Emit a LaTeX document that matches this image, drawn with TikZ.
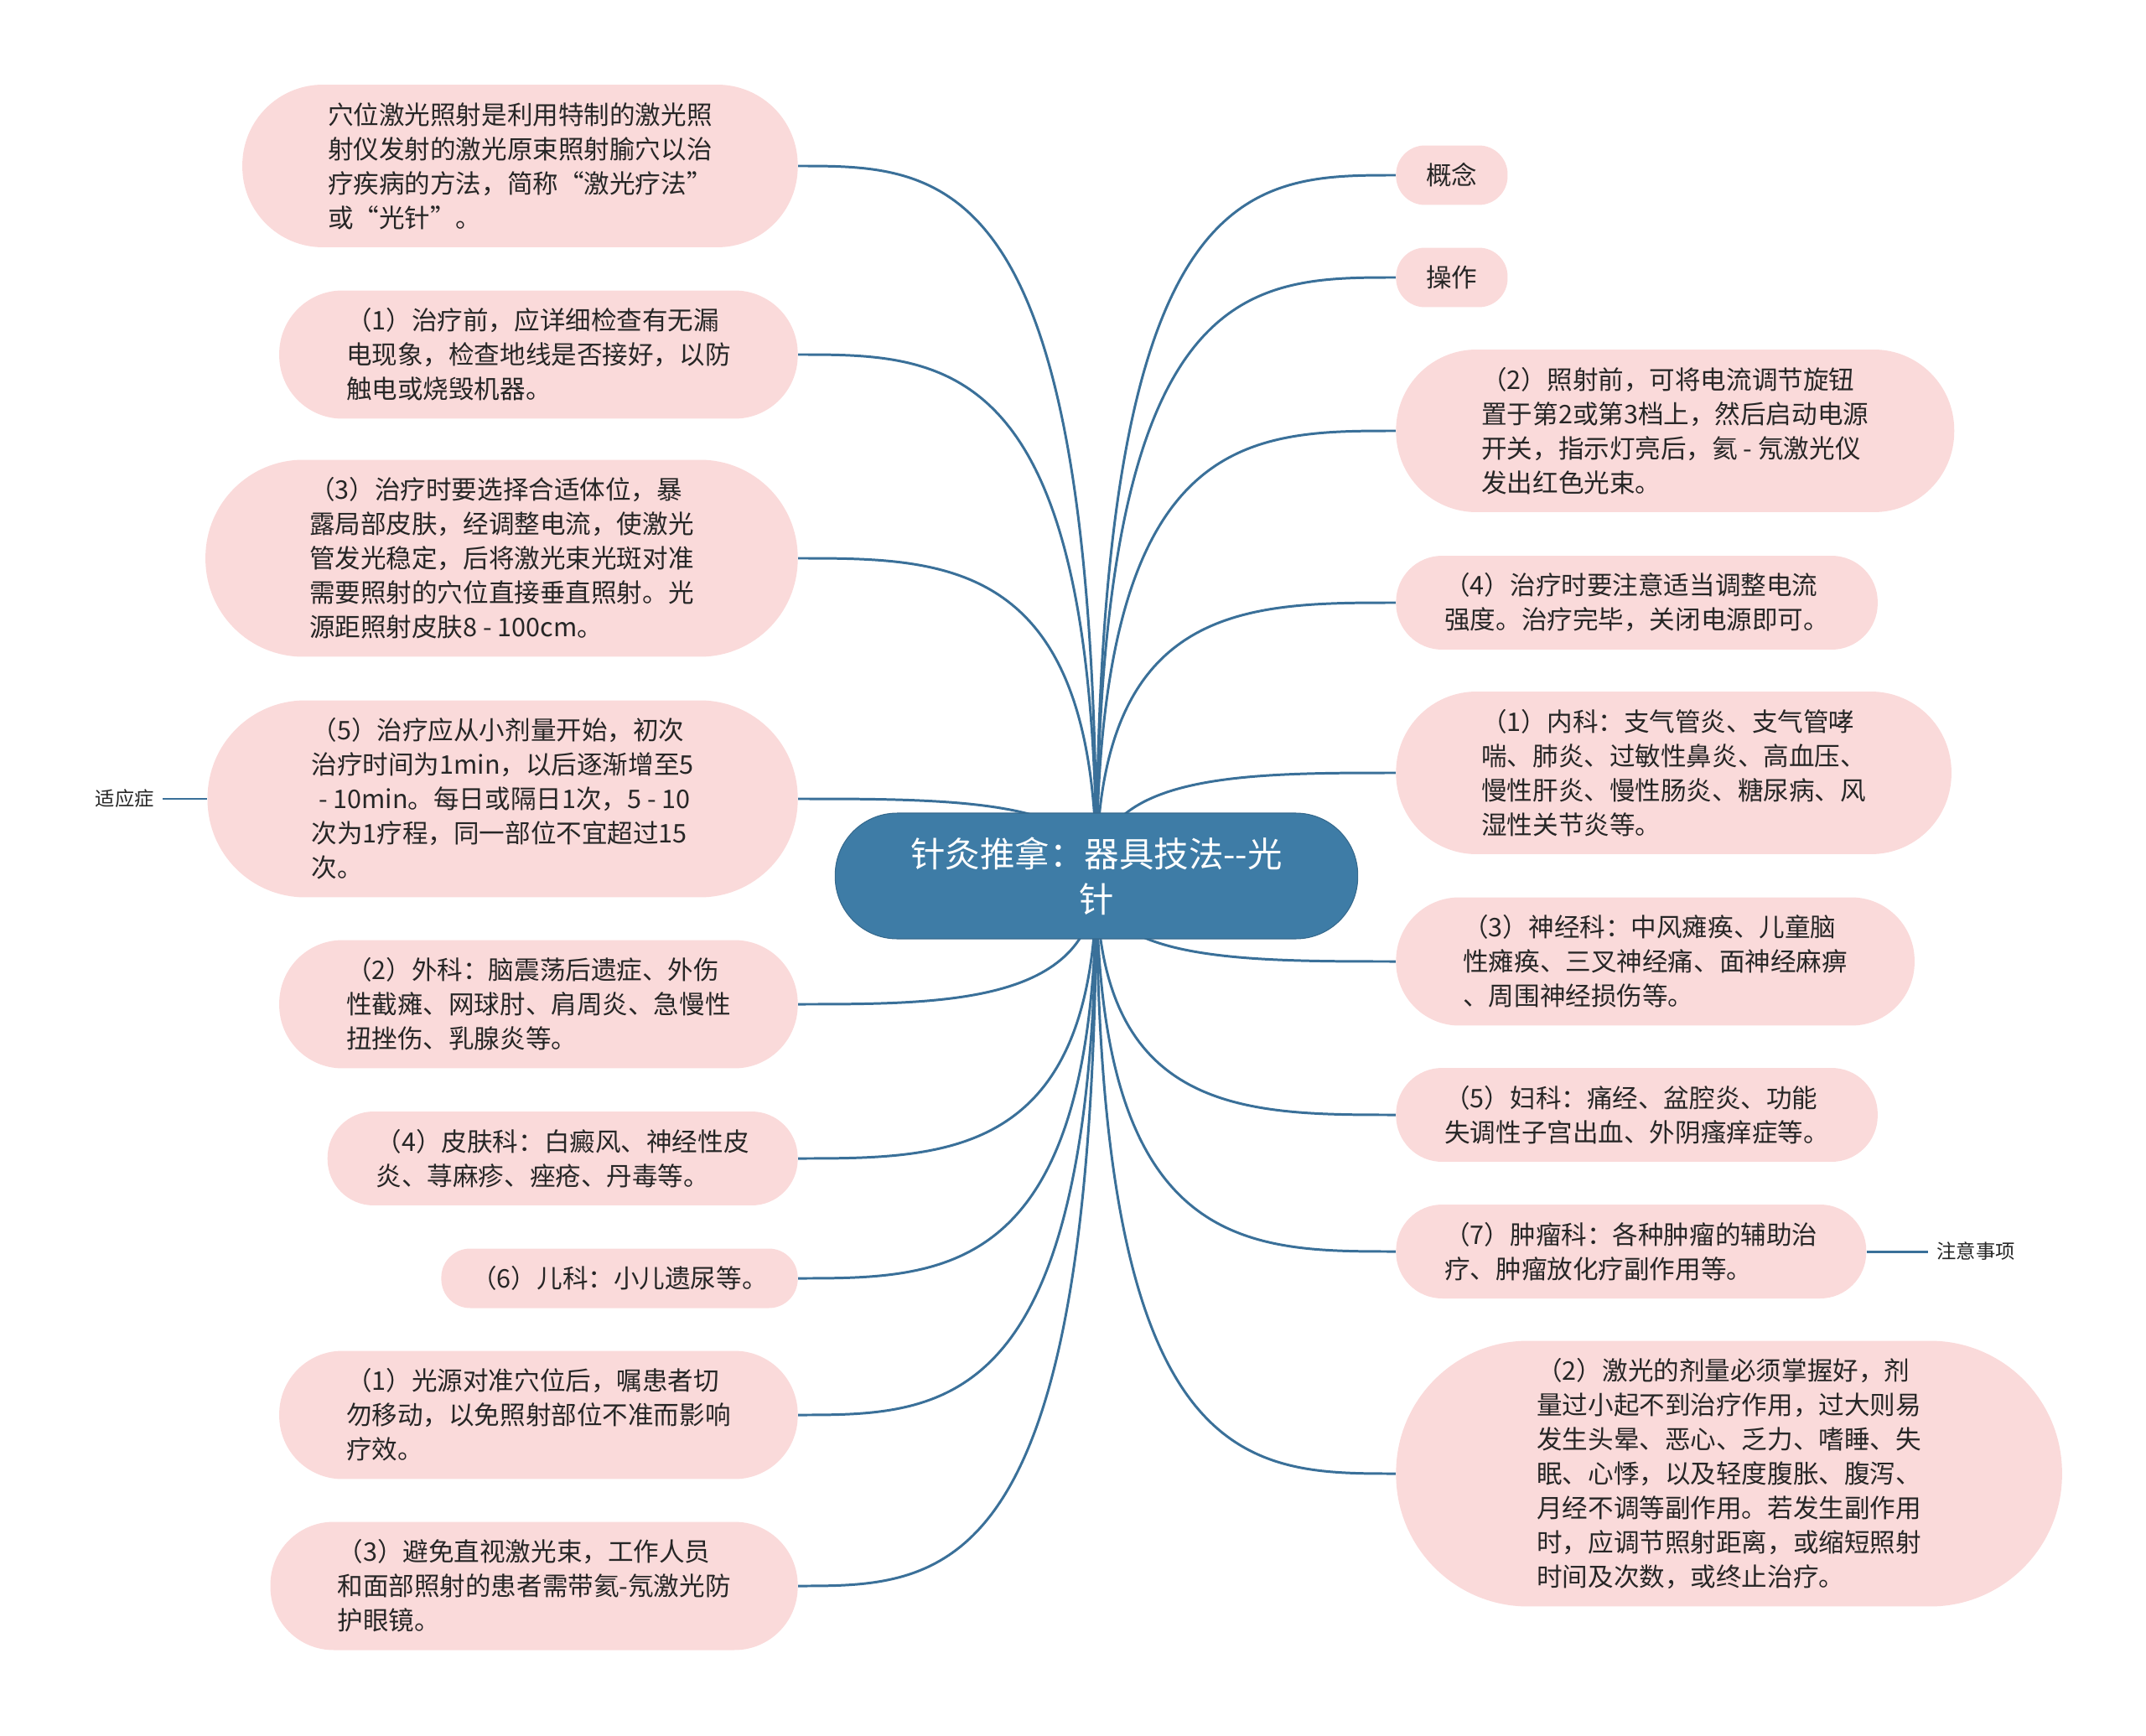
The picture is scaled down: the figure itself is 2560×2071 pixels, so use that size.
\documentclass[tikz,border=0pt]{standalone}
\usepackage{fontspec}
\setmainfont{Noto Sans CJK SC}
\usepackage{tikz}
\usetikzlibrary{calc}

\definecolor{topicblue}{HTML}{3E7CA6}
\definecolor{linkblue}{HTML}{3A7099}
\definecolor{leafpink}{HTML}{FADADA}
\definecolor{leaftext}{HTML}{262626}

\pgfdeclarelayer{background}
\pgfsetlayers{background,main}

\begin{document}
\begin{tikzpicture}[x=0.02cm, y=-0.02cm,
  topic/.style={rectangle, rounded corners=1.48cm, fill=topicblue, draw=topicblue!85!black,
    line width=0.6pt, text=white, align=center, inner xsep=1.8cm, inner ysep=0.55cm,
    minimum height=3cm, font=\fontsize{23.6}{30.7}\selectfont},
  % #1 = number of text lines, the ends are half circles
  leaf/.style={rectangle, fill=leafpink, text=leaftext, align=left,
    rounded corners={#1*0.41cm+0.28cm}, inner xsep={#1*0.44cm+0.28cm}, inner ysep=0.4cm,
    minimum height={#1*0.82cm+0.6cm}, font=\fontsize{17.4}{23.3}\selectfont},
  tag/.style={text=leaftext, inner xsep=0.2cm, inner ysep=0.1cm,
    font=\fontsize{13.3}{16}\selectfont},
  link/.style={draw=linkblue, line width=1.7pt}]

\useasboundingbox (0,0) rectangle (2560,2071);

% First, define nodes: the central topic
\node[topic] (C) at (1308,1045) {针灸推拿：器具技法\mbox{-}\mbox{-}光\\针};

% left branch, all hanging from x = 952
\node[leaf=4, anchor=east] (L1) at (952,198) {穴位激光照射是利用特制的激光照\\射仪发射的激光原束照射腧穴以治\\疗疾病的方法，简称“激光疗法”\\或“光针”。};
\node[leaf=3, anchor=east] (L2) at (952,423) {（1）治疗前，应详细检查有无漏\\电现象，检查地线是否接好，以防\\触电或烧毁机器。};
\node[leaf=5, anchor=east] (L3) at (952,666) {（3）治疗时要选择合适体位，暴\\露局部皮肤，经调整电流，使激光\\管发光稳定，后将激光束光斑对准\\需要照射的穴位直接垂直照射。光\\源距照射皮肤8 - 100cm。};
\node[leaf=5, anchor=east] (L4) at (952,953) {（5）治疗应从小剂量开始，初次\\治疗时间为1min，以后逐渐增至5\\\hspace*{0.28em}- 10min。每日或隔日1次，5 - 10\\次为1疗程，同一部位不宜超过15\\次。};
\node[leaf=3, anchor=east] (L5) at (952,1198) {（2）外科：脑震荡后遗症、外伤\\性截瘫、网球肘、肩周炎、急慢性\\扭挫伤、乳腺炎等。};
\node[leaf=2, anchor=east] (L6) at (952,1382) {（4）皮肤科：白癜风、神经性皮\\炎、荨麻疹、痤疮、丹毒等。};
\node[leaf=1, anchor=east] (L7) at (952,1525) {（6）儿科：小儿遗尿等。};
\node[leaf=3, anchor=east] (L8) at (952,1688) {（1）光源对准穴位后，嘱患者切\\勿移动，以免照射部位不准而影响\\疗效。};
\node[leaf=3, anchor=east] (L9) at (952,1892) {（3）避免直视激光束，工作人员\\和面部照射的患者需带氦-氖激光防\\护眼镜。};

% right branch, all starting at x = 1665
\node[leaf=1, anchor=west] (R1) at (1665,209) {概念};
\node[leaf=1, anchor=west] (R2) at (1665,331) {操作};
\node[leaf=4, anchor=west] (R3) at (1665,514) {（2）照射前，可将电流调节旋钮\\置于第2或第3档上，然后启动电源\\开关，指示灯亮后，氦 - 氖激光仪\\发出红色光束。};
\node[leaf=2, anchor=west] (R4) at (1665,719) {（4）治疗时要注意适当调整电流\\强度。治疗完毕，关闭电源即可。};
\node[leaf=4, anchor=west] (R5) at (1665,922) {（1）内科：支气管炎、支气管哮\\喘、肺炎、过敏性鼻炎、高血压、\\慢性肝炎、慢性肠炎、糖尿病、风\\湿性关节炎等。};
\node[leaf=3, anchor=west] (R6) at (1665,1147) {（3）神经科：中风瘫痪、儿童脑\\性瘫痪、三叉神经痛、面神经麻痹\\、周围神经损伤等。};
\node[leaf=2, anchor=west] (R7) at (1665,1330) {（5）妇科：痛经、盆腔炎、功能\\失调性子宫出血、外阴瘙痒症等。};
\node[leaf=2, anchor=west] (R8) at (1665,1493) {（7）肿瘤科：各种肿瘤的辅助治\\疗、肿瘤放化疗副作用等。};
\node[leaf=7, anchor=west] (R9) at (1665,1758) {（2）激光的剂量必须掌握好，剂\\量过小起不到治疗作用，过大则易\\发生头晕、恶心、乏力、嗜睡、失\\眠、心悸，以及轻度腹胀、腹泻、\\月经不调等副作用。若发生副作用\\时，应调节照射距离，或缩短照射\\时间及次数，或终止治疗。};

% the two loose labels
\node[tag] (I) at (149,953) {适应症};
\node[tag] (N) at (2357,1493) {注意事项};
\draw[link] (I.east) -- (L4.west);
\draw[link] (R8.east) -- (N.west);

% Now the curved links, behind the nodes; only explicit control points
\begin{pgfonlayer}{background}
\foreach \i in {1,...,9} {
  \draw[link] (C.center) .. controls (C.center |- L\i.east) and ($(C.center |- L\i.east)!0.5!(L\i.east)$) .. (L\i.east);
  \draw[link] (C.center) .. controls (C.center |- R\i.west) and ($(C.center |- R\i.west)!0.5!(R\i.west)$) .. (R\i.west);
}
\end{pgfonlayer}

\end{tikzpicture}
\end{document}
